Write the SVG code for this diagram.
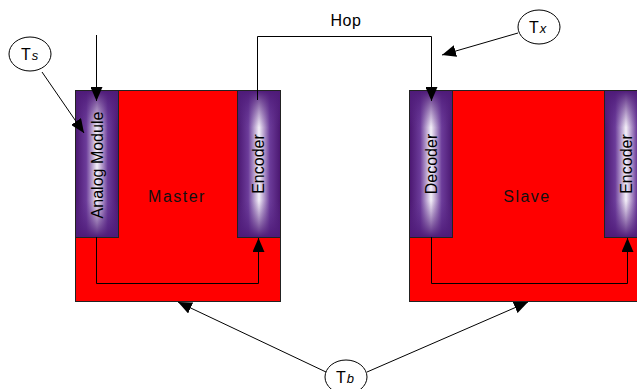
<svg xmlns="http://www.w3.org/2000/svg" width="637" height="389" viewBox="0 0 637 389">
<style>
.box{fill:#ff0000;stroke:#222;stroke-width:1}
.mod{stroke:#222;stroke-width:1}
.ln{fill:none;stroke:#000;stroke-width:1}
.lbl{font-family:"Liberation Sans",Arial,sans-serif;font-size:16px;fill:#000}
.mlbl{font-family:"Liberation Sans",Arial,sans-serif;font-size:16px;fill:#111;letter-spacing:1.5px}
.ell{fill:#fff;stroke:#000;stroke-width:1}
</style>
<defs>
<linearGradient id="gh" x1="0" y1="0" x2="1" y2="0">
<stop offset="0" stop-color="#4a1670"/>
<stop offset="0.25" stop-color="#6c3c9a"/>
<stop offset="0.5" stop-color="#f4f0f8"/>
<stop offset="0.75" stop-color="#6c3c9a"/>
<stop offset="1" stop-color="#4a1670"/>
</linearGradient>
<linearGradient id="gv" x1="0" y1="0" x2="0" y2="1">
<stop offset="0" stop-color="#4e1a78" stop-opacity="1"/>
<stop offset="0.25" stop-color="#5a2888" stop-opacity="0"/>
<stop offset="0.75" stop-color="#5a2888" stop-opacity="0"/>
<stop offset="1" stop-color="#4e1a78" stop-opacity="1"/>
</linearGradient>
<marker id="ahb" viewBox="0 0 14 12" refX="14" refY="6" markerWidth="14" markerHeight="12" markerUnits="userSpaceOnUse" orient="auto">
<path d="M0,0 L14,6 L0,12 Z" fill="#000"/>
</marker>
</defs>

<g id="master">
<rect class="box" x="75.5" y="90.5" width="205" height="211"/>
<text class="mlbl" x="177" y="202" text-anchor="middle">Master</text>
</g>
<g id="analog-module">
<rect class="mod" x="75.5" y="90.5" width="43" height="147" fill="url(#gh)"/>
<rect x="75.5" y="90.5" width="43" height="147" fill="url(#gv)" stroke="#222"/>
<text class="lbl" transform="translate(103,165) rotate(-90)" text-anchor="middle">Analog Module</text>
</g>
<g id="master-encoder">
<rect class="mod" x="237.5" y="90.5" width="43" height="147" fill="url(#gh)"/>
<rect x="237.5" y="90.5" width="43" height="147" fill="url(#gv)" stroke="#222"/>
<text class="lbl" transform="translate(264,164) rotate(-90)" text-anchor="middle">Encoder</text>
</g>

<g id="slave">
<rect class="box" x="409.5" y="90.5" width="240" height="211"/>
<text class="mlbl" x="527" y="202" text-anchor="middle">Slave</text>
</g>
<g id="decoder">
<rect class="mod" x="409.5" y="90.5" width="43" height="147" fill="url(#gh)"/>
<rect x="409.5" y="90.5" width="43" height="147" fill="url(#gv)" stroke="#222"/>
<text class="lbl" transform="translate(437,164) rotate(-90)" text-anchor="middle">Decoder</text>
</g>
<g id="slave-encoder">
<rect class="mod" x="604.5" y="90.5" width="43" height="147" fill="url(#gh)"/>
<rect x="604.5" y="90.5" width="43" height="147" fill="url(#gv)" stroke="#222"/>
<text class="lbl" transform="translate(632,164) rotate(-90)" text-anchor="middle">Encoder</text>
</g>

<g id="Ts">
<ellipse class="ell" cx="30" cy="54" rx="21" ry="17"/>
<text class="lbl" x="21" y="60">T<tspan font-style="italic" font-size="13" dx="1">s</tspan></text>
</g>
<g id="Tx">
<ellipse class="ell" cx="539" cy="27" rx="21" ry="17"/>
<text class="lbl" x="529" y="33">T<tspan font-style="italic" font-size="13" dx="1">x</tspan></text>
</g>
<g id="Tb">
<ellipse class="ell" cx="346" cy="377" rx="21" ry="17"/>
<text class="lbl" x="336" y="383">T<tspan font-style="italic" font-size="13" dx="1">b</tspan></text>
</g>

<g id="connectors">
<line class="ln" x1="96.5" y1="35" x2="96.5" y2="101" marker-end="url(#ahb)"/>
<line class="ln" x1="42" y1="72" x2="84" y2="133" marker-end="url(#ahb)"/>
<polyline class="ln" points="96.5,237 96.5,283.5 258.5,283.5 258.5,238" marker-end="url(#ahb)"/>
<polyline class="ln" points="431.5,237 431.5,283.5 627.5,283.5 627.5,238" marker-end="url(#ahb)"/>
<polyline class="ln" points="257.5,100 257.5,36.5 431.5,36.5 431.5,101" marker-end="url(#ahb)"/>
<text class="lbl" x="346" y="26" text-anchor="middle" letter-spacing="0.5">Hop</text>
<line class="ln" x1="518" y1="33" x2="442" y2="55" marker-end="url(#ahb)"/>
<line class="ln" x1="326" y1="372" x2="178" y2="302" marker-end="url(#ahb)"/>
<line class="ln" x1="367" y1="372" x2="528" y2="302" marker-end="url(#ahb)"/>
</g>
</svg>
